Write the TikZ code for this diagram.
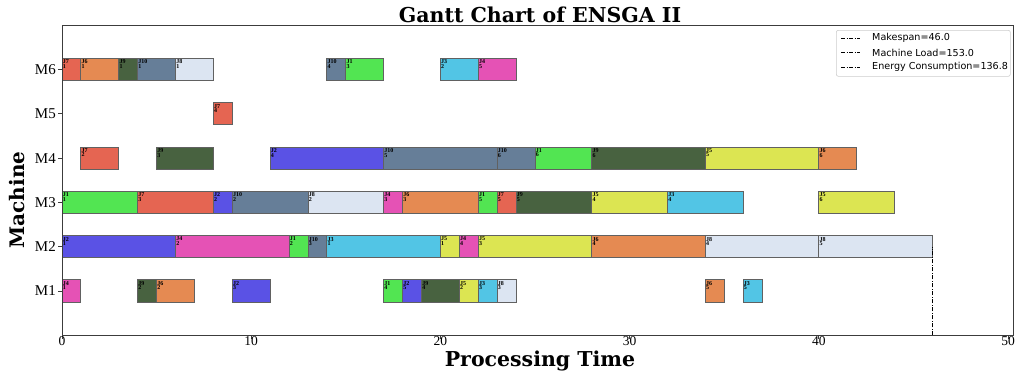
\documentclass[tikz,border=0pt]{standalone}
\usepackage{fontspec}
\setmainfont{Liberation Serif}
\newfontfamily\legendfont{DejaVu Sans}
\newfontfamily\headfont{DejaVu Serif}
\usetikzlibrary{positioning}

% job colours
\definecolor{c1}{RGB}{82,229,82}
\definecolor{c2}{RGB}{90,82,229}
\definecolor{c3}{RGB}{82,197,229}
\definecolor{c4}{RGB}{229,82,181}
\definecolor{c5}{RGB}{220,229,82}
\definecolor{c6}{RGB}{229,138,82}
\definecolor{c7}{RGB}{229,101,82}
\definecolor{c8}{RGB}{220,229,242}
\definecolor{c9}{RGB}{72,98,64}
\definecolor{c10}{RGB}{102,126,152}
\definecolor{spine}{RGB}{60,60,60}

\tikzset{
  bar/.style={draw=black!62, line width=0.9pt},
  oplabel/.style={anchor=north west, inner xsep=0.6pt, inner ysep=1.2pt, align=left,
    font=\fontsize{6}{5.2}\selectfont\bfseries},
  ticklabel/.style={font=\fontsize{13.5}{13.5}\selectfont},
  mlabel/.style={font=\fontsize{15}{15}\selectfont, anchor=east},
  axistitle/.style={font=\headfont\bfseries\fontsize{20.5}{20.5}\selectfont},
  makespan/.style={line width=1pt, dash pattern=on 4pt off 1.5pt on 1pt off 1.5pt},
  legendline/.style={line width=0.8pt, dash pattern=on 4pt off 1.5pt on 1pt off 1.5pt},
  legendtext/.style={anchor=west, inner sep=0pt, font=\legendfont\fontsize{9.6}{10}\selectfont}
}

\begin{document}
\begin{tikzpicture}[x=1pt,y=1pt]
\useasboundingbox (0,0) rectangle (1016,376);

% title
\node[font=\headfont\bfseries\fontsize{20.5}{20.5}\selectfont] (title) at (540,361) {Gantt Chart of ENSGA II};

\begin{scope}[shift={(62pt,40.7pt)}, x=18.92pt, y=44.3pt]
  % operations: machine/start/end/job/operation
  \foreach \m/\s/\e/\j/\o [count=\i] in {
    6/0/1/7/1, 6/1/3/6/1, 6/3/4/9/1, 6/4/6/10/1, 6/6/8/8/1,
    6/14/15/10/4, 6/15/17/1/3, 6/20/22/3/2, 6/22/24/4/5,
    5/8/9/7/4,
    4/1/3/7/2, 4/5/8/9/3, 4/11/17/2/4, 4/17/23/10/5, 4/23/25/10/6,
    4/25/28/1/6, 4/28/34/9/6, 4/34/40/5/5, 4/40/42/6/6,
    3/0/4/1/1, 3/4/8/7/3, 3/8/9/2/2, 3/9/13/10/2, 3/13/17/8/2,
    3/17/18/4/3, 3/18/22/6/3, 3/22/23/1/5, 3/23/24/7/5, 3/24/28/9/5,
    3/28/32/5/4, 3/32/36/3/4, 3/40/44/5/6,
    2/0/6/2/1, 2/6/12/4/2, 2/12/13/1/2, 2/13/14/10/3, 2/14/20/3/1,
    2/20/21/5/1, 2/21/22/4/4, 2/22/28/5/3, 2/28/34/6/4, 2/34/40/8/4,
    2/40/46/8/5,
    1/0/1/4/1, 1/4/5/9/2, 1/5/7/6/2, 1/9/11/2/3, 1/17/18/1/4,
    1/18/19/2/5, 1/19/21/9/4, 1/21/22/5/2, 1/22/23/3/3, 1/23/24/8/3,
    1/34/35/6/5, 1/36/37/3/5} {
    \draw[bar, fill=c\j] (\s,\m-0.25) rectangle (\e,\m+0.25);
    \node[oplabel] (op\i) at (\s,\m+0.25) {J\j\\[-0.6pt]\o};
  }

  % makespan marker
  \coordinate (ms0) at (46,0);
  \coordinate (ms1) at (46,2);
  \draw[makespan] (ms0) -- (ms1);

  % axes frame
  \coordinate (o) at (0,0);
  \coordinate (tr) at (50.3,7);
  \draw[spine, line width=0.8pt] (o) rectangle (tr);

  % x ticks
  \foreach \t in {0,10,...,50} {
    \draw[spine, line width=0.8pt] (\t,0) -- ++(0,-4pt);
    \node[ticklabel, anchor=north, inner sep=0pt] (xt\t) at ([yshift=-1.5pt]\t,0) {\t};
  }
  % y ticks
  \foreach \m in {1,...,6} {
    \draw[spine, line width=0.8pt] (0,\m) -- ++(-4pt,0);
    \node[mlabel, inner sep=0pt] (yt\m) at ([xshift=-6pt]0,\m) {M\m};
  }
\end{scope}

% axis titles
\node[axistitle] (xtitle) at (540,15.5) {Processing Time};
\node[axistitle, font=\headfont\bfseries\fontsize{20}{20}\selectfont, rotate=90] (ytitle) at (17,176) {Machine};

% legend
\node[draw=black!20, rounded corners=2pt, line width=0.6pt, minimum width=174pt,
  minimum height=46pt, anchor=north west, inner sep=0pt, fill=white] (legend) at (836,346) {};
\foreach \y/\txt [count=\k] in {338/Makespan=46.0, 323.5/Machine Load=153.0,
    309/Energy Consumption=136.8} {
  \coordinate (la\k) at (841,\y);
  \coordinate (lb\k) at (860,\y);
  \draw[legendline] (la\k) -- (lb\k);
  \node[legendtext] (lt\k) at (872,\y) {\txt};
}
\end{tikzpicture}
\end{document}
